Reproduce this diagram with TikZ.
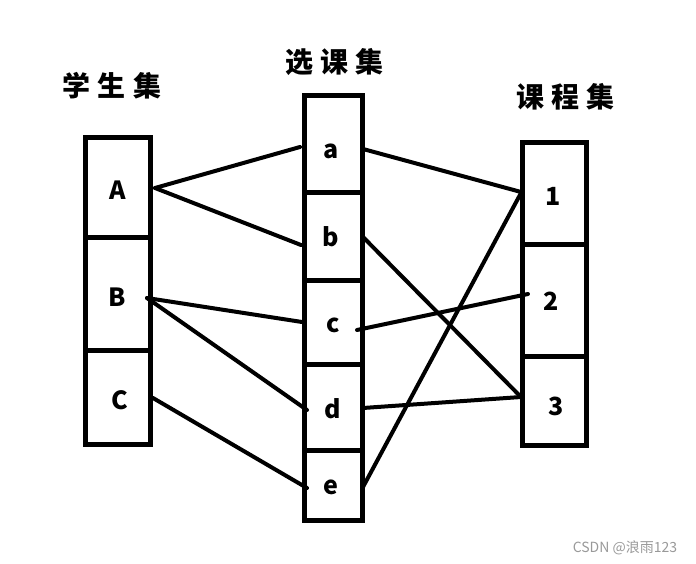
\documentclass[tikz,border=0pt]{standalone}
\usepackage{fontspec}
\setmainfont{Liberation Sans}
\newfontfamily\cjk{Noto Sans CJK SC}
\begin{document}
\begin{tikzpicture}[x=1pt,y=-1pt,
  box/.style={draw,line width=5pt,line join=miter},
  link/.style={draw,line width=4pt,line cap=round},
  lbl/.style={font=\cjk\bfseries\fontsize{25}{25}\selectfont,inner sep=0pt},
  ttl/.style={font=\cjk\bfseries\fontsize{28}{28}\selectfont,inner sep=0pt},
  wm/.style={font=\cjk\fontsize{14}{14}\selectfont,text=black!40,inner sep=0pt}]
\useasboundingbox (0,0) rectangle (696,564);
% boxes
\draw[box] (85.5,137.5) rectangle (150,444.5);
\draw[box] (85.5,237.5) -- (150,237.5) (85.5,350.5) -- (150,350.5);
\draw[box] (304.5,95.5) rectangle (362.5,520.5);
\draw[box] (304.5,192.5) -- (364.5,192.5) (304.5,280.5) -- (362.5,280.5)
  (304.5,364.5) -- (362.5,364.5) (304.5,450.5) -- (364.5,450.5);
\draw[box] (522.5,143) rectangle (586.5,445);
\draw[box] (522.5,244) -- (586.5,244) (522.5,356) -- (586.5,356);
% titles
\node[ttl] (t1) at (112,86) {学\hspace{8pt}生\hspace{8pt}集};
\node[ttl] (t2) at (334,62) {选\hspace{7pt}课\hspace{7pt}集};
\node[ttl] (t3) at (565,97) {课\hspace{7pt}程\hspace{7pt}集};
% labels
\node[lbl] (A) at (118,190) {A};
\node[lbl] (B) at (117,297) {B};
\node[lbl] (C) at (120,400) {C};
\node[lbl] (a) at (331,151) {a};
\node[lbl] (b) at (331,237) {b};
\node[lbl] (c) at (333,325) {c};
\node[lbl] (d) at (333,409) {d};
\node[lbl] (e) at (331,487) {e};
\node[lbl] (n1) at (553,196) {1};
\node[lbl] (n2) at (551,301) {2};
\node[lbl] (n3) at (556,406) {3};
% ports
\coordinate (Ao) at (155,188);
\coordinate (Bo) at (147,298);
\coordinate (Co) at (153,398);
\coordinate (ai) at (300,147);
\coordinate (bi) at (301,245);
\coordinate (ci) at (302,322);
\coordinate (di) at (307,410);
\coordinate (ei) at (307,488);
\coordinate (ao) at (363,149);
\coordinate (bo) at (363,237);
\coordinate (co) at (357,330);
\coordinate (do) at (363,408);
\coordinate (eo) at (363,487);
\coordinate (i1) at (521,192);
\coordinate (i1b) at (521,193);
\coordinate (i2) at (528,294);
\coordinate (i3) at (521,397);
% connectors
\path[link] (Ao) -- (ai);
\path[link] (Ao) -- (bi);
\path[link] (Bo) -- (ci);
\path[link] (Bo) -- (di);
\path[link] (Co) -- (ei);
\path[link] (ao) -- (i1);
\path[link] (bo) -- (i3);
\path[link] (co) -- (i2);
\path[link] (do) -- (i3);
\path[link] (eo) -- (i1b);
% watermark
\node[wm] (w) at (625,548) {CSDN @浪雨123};
\end{tikzpicture}
\end{document}
